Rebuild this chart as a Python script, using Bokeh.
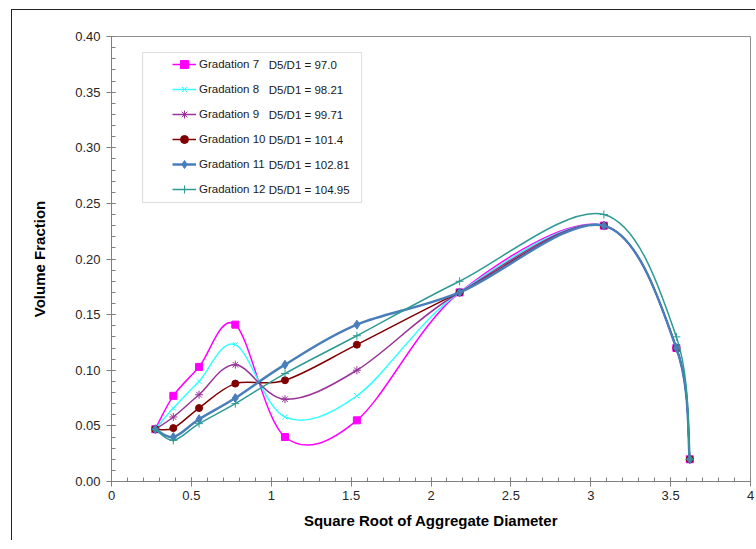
import numpy as np
from bokeh.plotting import figure
from bokeh.models import (Range1d, FixedTicker, BoxAnnotation, Legend, LegendItem,
                          ColumnDataSource)
from bokeh.core.properties import value
from bokeh.embed import file_html
from bokeh.resources import INLINE

# ---------------- data ----------------
sqrt_diam = [0.274, 0.387, 0.548, 0.775, 1.086, 1.536, 2.179, 3.082, 3.536, 3.62]
grad7  = [0.047, 0.077, 0.103, 0.141, 0.040, 0.055, 0.170, 0.230, 0.120, 0.020]
grad8  = [0.047, 0.066, 0.090, 0.123, 0.058, 0.077, 0.170, 0.230, 0.120, 0.020]
grad9  = [0.047, 0.058, 0.078, 0.105, 0.074, 0.100, 0.170, 0.230, 0.120, 0.020]
grad10 = [0.047, 0.048, 0.066, 0.088, 0.091, 0.123, 0.170, 0.230, 0.120, 0.020]
grad11 = [0.047, 0.040, 0.056, 0.075, 0.105, 0.141, 0.170, 0.230, 0.120, 0.020]
grad12 = [0.047, 0.037, 0.052, 0.070, 0.097, 0.131, 0.180, 0.240, 0.130, 0.020]

series_names = ["Gradation 7", "Gradation 8", "Gradation 9",
                "Gradation 10", "Gradation 11", "Gradation 12"]
d5_d1 = ["D5/D1 = 97.0", "D5/D1 = 98.21", "D5/D1 = 99.71",
         "D5/D1 = 101.4", "D5/D1 = 102.81", "D5/D1 = 104.95"]

x_ticks = [0, 0.5, 1, 1.5, 2, 2.5, 3, 3.5, 4]
x_tick_labels = ["0", "0.5", "1", "1.5", "2", "2.5", "3", "3.5", "4"]
y_ticks = [0.0, 0.05, 0.10, 0.15, 0.20, 0.25, 0.30, 0.35, 0.40]
y_tick_labels = ["0.00", "0.05", "0.10", "0.15", "0.20", "0.25", "0.30", "0.35", "0.40"]

# ---------------- styles ----------------
colors = ["#FF00FF", "#33FFFF", "#993399", "#800000", "#4A7EBB", "#2E9A94"]
markers = ["square", "x", "asterisk", "circle", "diamond", "cross"]
msizes = [7, 7, 8, 7, 9, 8]
lwidths = [1.5, 1.5, 1.5, 1.5, 2.5, 1.5]
FONT = "Liberation Sans"

# canvas starts at page (12, 10) because of the CSS margin + border below
p = figure(width=744, height=531, output_backend="svg", toolbar_location=None,
           x_range=Range1d(0, 4), y_range=Range1d(0, 0.4),
           min_border_left=99, min_border_top=26, min_border_right=6,
           min_border_bottom=60)
p.styles = {"border-top": "1px solid #222222", "border-left": "1px solid #222222",
            "margin-left": "11px", "margin-top": "9px"}
p.grid.visible = False
p.outline_line_color = "#909090"
p.outline_line_width = 1

def smooth_ctrl(xs, ys):
    """Excel-style smoothing control points (Catmull-Rom -> cubic Bezier)."""
    xs = np.asarray(xs, float); ys = np.asarray(ys, float)
    n = len(xs)
    xp = np.concatenate([[xs[0]], xs, [xs[-1]]])
    yp = np.concatenate([[ys[0]], ys, [ys[-1]]])
    x0 = xs[:-1]; y0 = ys[:-1]; x1 = xs[1:]; y1 = ys[1:]
    cx0 = x0 + (xp[2:n + 1] - xp[0:n - 1]) / 6
    cy0 = y0 + (yp[2:n + 1] - yp[0:n - 1]) / 6
    cx1 = x1 - (xp[3:n + 2] - xp[1:n]) / 6
    cy1 = y1 - (yp[3:n + 2] - yp[1:n]) / 6
    return dict(x0=x0, y0=y0, x1=x1, y1=y1, cx0=cx0, cy0=cy0, cx1=cx1, cy1=cy1)

# legend box (under the glyphs)
p.add_layout(BoxAnnotation(left=0.195, right=1.566, top=0.3856, bottom=0.2508,
                           fill_color="white", fill_alpha=1, level="underlay",
                           line_color="#909090", line_width=1))

all_series = [grad7, grad8, grad9, grad10, grad11, grad12]
items = []
for name, ys, c, m, ms, lw in zip(series_names, all_series, colors, markers, msizes, lwidths):
    src = ColumnDataSource(smooth_ctrl(sqrt_diam, ys))
    r_line = p.bezier(x0="x0", y0="y0", x1="x1", y1="y1", cx0="cx0", cy0="cy0",
                      cx1="cx1", cy1="cy1", source=src, line_color=c, line_width=lw)
    r_pts = p.scatter(sqrt_diam, ys, marker=m, size=ms, line_color=c, fill_color=c,
                      line_width=1)
    items.append(LegendItem(label=name, renderers=[r_line, r_pts]))

legend = Legend(items=items, location=(61, 282), padding=0, margin=0, spacing=5,
                glyph_width=24, glyph_height=20, label_height=20,
                label_standoff=3, border_line_color=None,
                background_fill_alpha=0, label_text_font=FONT,
                label_text_font_size="11.5px", label_text_color="#1a1a1a")
p.add_layout(legend, "center")

row_y0 = (481 - 64) / 1112.5
row_step = 25 / 1112.5
p.text(x=[0.984] * len(d5_d1), y=[row_y0 - i * row_step for i in range(len(d5_d1))],
       text=d5_d1, text_baseline="middle", text_align="left",
       text_font=value(FONT), text_font_size="11.5px", text_color="#1a1a1a")

# axes
p.xaxis.ticker = FixedTicker(ticks=x_ticks,
                             minor_ticks=[i * 0.1 for i in range(41)])
p.xaxis.major_label_overrides = {t: l for t, l in zip(x_ticks, x_tick_labels)}
p.yaxis.ticker = FixedTicker(ticks=y_ticks,
                             minor_ticks=[i * 0.01 for i in range(41)])
p.yaxis.major_label_overrides = {t: l for t, l in zip(y_ticks, y_tick_labels)}

for ax in (p.xaxis[0], p.yaxis[0]):
    ax.axis_line_color = "#808080"
    ax.major_tick_line_color = "#808080"
    ax.minor_tick_line_color = "#808080"
    ax.major_tick_in = 4
    ax.major_tick_out = 5
    ax.minor_tick_in = 4
    ax.minor_tick_out = 0
    ax.major_label_text_font = FONT
    ax.major_label_text_font_size = "13px"
    ax.major_label_text_color = "#262626"
    ax.axis_label_text_font = FONT
    ax.axis_label_text_font_size = "15px"
    ax.axis_label_text_font_style = "bold"
    ax.axis_label_text_color = "#000000"

p.xaxis.axis_label = "Square Root of Aggregate Diameter"
p.yaxis.axis_label = "Volume Fraction"
p.xaxis.major_label_standoff = 4
p.yaxis.major_label_standoff = 6
p.xaxis.axis_label_standoff = 9
p.yaxis.axis_label_standoff = 24

open("out.html", "w").write(file_html(p, INLINE))
